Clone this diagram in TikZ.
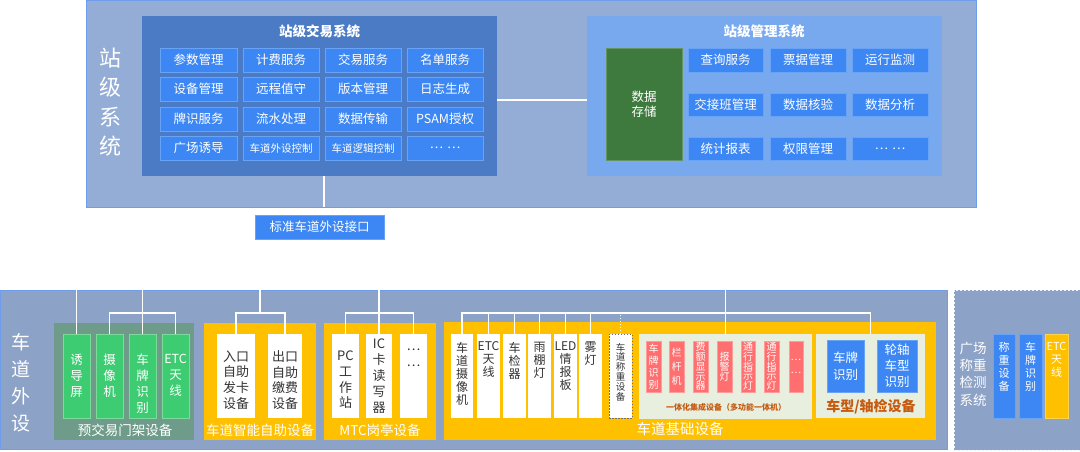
\documentclass[tikz,border=0pt]{standalone}
\usepackage{fontspec}
\setmainfont{Noto Sans CJK SC}
\definecolor{topbg}{HTML}{93ADD6}
\definecolor{edge}{HTML}{6D9DEB}
\definecolor{transbg}{HTML}{4A7BC4}
\definecolor{cellbg}{HTML}{3C87F4}
\definecolor{cellbd}{HTML}{68A3F5}
\definecolor{mgmtbg}{HTML}{78A8ED}
\definecolor{storebg}{HTML}{3E7A3D}
\definecolor{botbg}{HTML}{8CA2C7}
\definecolor{gantbg}{HTML}{6F9C8A}
\definecolor{greenbg}{HTML}{3ECC72}
\definecolor{greenbd}{HTML}{7ADB9B}
\definecolor{yel}{HTML}{FFC000}
\definecolor{lightbg}{HTML}{E8EFDF}
\definecolor{redbg}{HTML}{FF6F6F}
\definecolor{redbd}{HTML}{FF9C9C}
\definecolor{brown}{HTML}{C55A11}
\definecolor{dark}{HTML}{333333}
\newcommand\fs[2]{\fontsize{#1}{#2}\selectfont}
\newcommand\rb[7]{\node[#1, minimum width={(#5-#3)*1pt}, minimum height={(#6-#4)*1pt}] (#2) at ({(#3+#5)/2},{(#4+#6)/2}) {#7};}
\begin{document}
\begin{tikzpicture}[x=1pt,y=-1pt,
  every node/.style={inner sep=0pt, outer sep=0pt, text=white, font=\fs{12.5}{15}},
  panel/.style={fill=topbg, draw=edge, line width=1pt},
  botpanel/.style={fill=botbg, draw=edge, line width=1pt},
  transbox/.style={fill=transbg},
  mgmtbox/.style={fill=mgmtbg},
  cellbox/.style={fill=cellbg, draw=cellbd, line width=0.8pt},
  storebox/.style={fill=storebg, draw=storebg!80!white, line width=0.6pt, align=center},
  gantrybox/.style={fill=gantbg},
  greenbox/.style={fill=greenbg, draw=greenbd, line width=0.8pt},
  yelbox/.style={fill=yel},
  whitebox/.style={fill=white},
  dashbox/.style={fill=white, draw=dark!70, dashed, dash pattern=on 1.5pt off 1.5pt, line width=0.8pt},
  lightbox/.style={fill=lightbg},
  redbox/.style={fill=redbg, draw=redbd, line width=0.8pt, align=center},
  bluebox/.style={fill=cellbg, draw=cellbd, line width=0.8pt, align=center},
  yelitem/.style={fill=yel, draw=yel!70!white, line width=0.8pt},
  weighbox/.style={fill=botbg, draw=white!85!botbg, dashed, dash pattern=on 2pt off 2pt, line width=0.8pt},
  title/.style={font=\bfseries\fs{13.5}{16}},
  vtext/.style={align=center, anchor=north},
  grouplbl/.style={font=\fs{13.5}{16}},
  wire/.style={draw=white, line width=1.3pt},
  dotwire/.style={draw=white, line width=1.3pt, dash pattern=on 1.5pt off 1.5pt}
]
\useasboundingbox (0,0) rectangle (1080,451);
% ---------------- top: station level
\rb{panel}{top}{86}{0}{976}{207}{}
\node[font=\fs{22}{29.5}, align=center] (toplbl) at (110,102) {站\\级\\系\\统};
\rb{transbox}{trans}{142}{16}{497}{176}{}
\node[title] (transt) at (319.5,31) {站级交易系统};
% cells
\rb{cellbox}{t11}{160}{48}{237}{72}{参数管理}
\rb{cellbox}{t12}{243}{48}{319}{72}{计费服务}
\rb{cellbox}{t13}{325}{48}{401}{72}{交易服务}
\rb{cellbox}{t14}{407}{48}{483}{72}{名单服务}
\rb{cellbox}{t21}{160}{77}{237}{101}{设备管理}
\rb{cellbox}{t22}{243}{77}{319}{101}{远程值守}
\rb{cellbox}{t23}{325}{77}{401}{101}{版本管理}
\rb{cellbox}{t24}{407}{77}{483}{101}{日志生成}
\rb{cellbox}{t31}{160}{107}{237}{131}{牌识服务}
\rb{cellbox}{t32}{243}{107}{319}{131}{流水处理}
\rb{cellbox}{t33}{325}{107}{401}{131}{数据传输}
\rb{cellbox}{t34}{407}{107}{483}{131}{PSAM授权}
\rb{cellbox}{t41}{160}{136}{237}{160}{广场诱导}
\rb{cellbox,font=\fs{10.5}{12}}{t42}{243}{136}{319}{160}{车道外设控制}
\rb{cellbox,font=\fs{10.5}{12}}{t43}{325}{136}{401}{160}{车道逻辑控制}
\rb{cellbox}{t44}{407}{136}{483}{160}{…\hspace{4pt}…}
% management
\rb{mgmtbox}{mgmt}{587}{16}{942}{176}{}
\node[title] (mgmtt) at (764,31) {站级管理系统};
\rb{storebox}{store}{606}{48}{682}{160}{数据\\存储}
\rb{cellbox}{m11}{688}{48}{763}{72}{查询服务}
\rb{cellbox}{m12}{770}{48}{846}{72}{票据管理}
\rb{cellbox}{m13}{852}{48}{928}{72}{运行监测}
\rb{cellbox}{m21}{688}{93}{763}{116}{交接班管理}
\rb{cellbox}{m22}{770}{93}{846}{116}{数据核验}
\rb{cellbox}{m23}{852}{93}{928}{116}{数据分析}
\rb{cellbox}{m31}{688}{137}{763}{160}{统计报表}
\rb{cellbox}{m32}{770}{137}{846}{160}{权限管理}
\rb{cellbox}{m33}{852}{137}{928}{160}{…\hspace{4pt}…}
\draw[wire] ([yshift=-4pt]trans.east) -- ([yshift=-4pt]mgmt.west);
\draw[wire] ([xshift=4.5pt]trans.south) -- ([xshift=4.5pt]trans.south |- top.south);
\rb{cellbox}{iface}{255}{215}{384}{239}{标准车道外设接口}
% ---------------- bottom: lane peripherals
\rb{botpanel}{bot}{0}{290}{947}{449}{}
\node[font=\fs{19}{27}, align=center] (botlbl) at (21,383) {车\\道\\外\\设};
\coordinate (bus) at (0,313);
% gantry
\rb{gantrybox}{gan}{54}{323}{194}{440}{}
\node[grouplbl] (ganl) at (125,430) {预交易门架设备};
\rb{greenbox}{g1}{63}{334}{90}{418}{}
\rb{greenbox}{g2}{96}{334}{123}{418}{}
\rb{greenbox}{g3}{129}{334}{156}{418}{}
\rb{greenbox}{g4}{162}{334}{189}{418}{}
\foreach \n/\t in {g1/{诱\\导\\屏}, g2/{摄\\像\\机}, g3/{车\\牌\\识\\别}, g4/{ETC\\天\\线}}
  \node[vtext, font=\fs{12.5}{16}] (\n t) at ([yshift=-20pt]\n.north) {\t};
% smart self-service
\rb{yelbox}{smart}{204}{323}{316}{440}{}
\node[grouplbl] (smartl) at (260,430) {车道智能自助设备};
\rb{whitebox}{s1}{217}{334}{255}{418}{}
\rb{whitebox}{s2}{268}{334}{302}{418}{}
\node[align=center, text=dark, font=\fs{13}{15.6}] (s1t) at ([yshift=-4pt]s1.center) {入口\\自助\\发卡\\设备};
\node[align=center, text=dark, font=\fs{13}{15.6}] (s2t) at ([yshift=-4pt]s2.center) {出口\\自助\\缴费\\设备};
% MTC
\rb{yelbox}{mtc}{324}{323}{436}{440}{}
\node[grouplbl] (mtcl) at (380,430) {MTC岗亭设备};
\rb{whitebox}{k1}{332}{334}{359}{418}{}
\rb{whitebox}{k2}{366}{334}{392}{418}{}
\rb{whitebox}{k3}{400}{334}{427}{418}{}
\node[align=center, text=dark, font=\fs{13}{15.6}] (k1t) at ([yshift=-4pt]k1.center) {PC\\工\\作\\站};
\node[align=center, text=dark, font=\fs{13}{16}] (k2t) at (k2.center) {IC\\卡\\读\\写\\器};
\node[align=center, text=dark, font=\fs{13}{16}] (k3t) at ([yshift=18pt]k3.center) {…\\…};
% lane basic equipment
\rb{yelbox}{base}{444}{322}{936}{440}{}
\node[font=\fs{14.5}{17}] (basel) at (680,429) {车道基础设备};
\rb{whitebox}{b1}{451}{334}{473}{418}{}
\rb{whitebox}{b2}{477}{334}{500}{418}{}
\rb{whitebox}{b3}{503}{334}{526}{418}{}
\rb{whitebox}{b4}{528}{334}{551}{418}{}
\rb{whitebox}{b5}{554}{334}{577}{418}{}
\rb{whitebox}{b6}{579}{334}{602}{418}{}
\rb{dashbox}{b7}{609}{334}{632}{418}{}
\foreach \n/\t in {b1/{车\\道\\摄\\像\\机}, b2/{ETC\\天\\线}, b3/{车\\检\\器}, b4/{雨\\棚\\灯}, b5/{LED\\情\\报\\板}, b6/{雾\\灯}}
  \node[vtext, text=dark, font=\fs{12}{13}] (\n t) at ([yshift=-8pt]\n.north) {\t};
\node[vtext, text=dark, font=\fs{9.5}{9.8}] (b7t) at ([yshift=-9pt]b7.north) {车\\道\\称\\重\\设\\备};
% integrated device
\rb{lightbox}{integ}{639}{334}{812}{419}{}
\node[text=brown, font=\bfseries\fs{8}{10}] (integl) at (726,407) {一体化集成设备（多功能一体机）};
\rb{redbox,font=\fs{10}{12}}{r1}{646}{341}{661}{392}{车\\牌\\识\\别}
\rb{redbox,font=\fs{10}{14}}{r2}{669}{341}{684}{392}{栏\\杆\\机}
\rb{redbox,font=\fs{10}{9.8}}{r3}{693}{341}{708}{392}{费\\额\\显\\示\\器}
\rb{redbox,font=\fs{10}{10}}{r4}{717}{341}{732}{392}{报\\警\\灯}
\rb{redbox,font=\fs{10}{9.8}}{r5}{741}{341}{755}{392}{通\\行\\指\\示\\灯}
\rb{redbox,font=\fs{10}{9.8}}{r6}{764}{341}{779}{392}{通\\行\\指\\示\\灯}
\rb{redbox,font=\fs{10}{13}}{r7}{789}{341}{803}{392}{…\\…}
% vehicle type / axle
\rb{lightbox}{vt}{816}{334}{925}{418}{}
\node[text=brown, font=\bfseries\fs{14}{16}] (vtl) at (871,407) {车型/轴检设备};
\rb{bluebox,font=\fs{12.5}{17}}{v1}{827}{340}{864}{392}{车牌\\识别}
\rb{bluebox,font=\fs{12.5}{16}}{v2}{877}{340}{917}{392}{轮轴\\车型\\识别}
% connectors bottom
\draw[wire] (g1.north |- bot.north) -- (g1.north);
\draw[wire] (g3.north |- bot.north) -- (g3.north);
\draw[wire] (g2.north) -- (g2.north |- bus) -- (g4.north |- bus) -- (g4.north);
\draw[wire] (smart.north |- bot.north) -- (smart.north |- bus);
\draw[wire] (s1.north) -- (s1.north |- bus) -- (s2.north |- bus) -- (s2.north);
\draw[wire] (k2.north |- bot.north) -- (k2.north);
\draw[wire] (k1.north) -- (k1.north |- bus) -- (k3.north |- bus) -- (k3.north);
\draw[wire] (b1.north) -- (b1.north |- bus) -- (vt.north |- bus) -- (vt.north);
\foreach \n in {b2,b3,b4,b5,b6} \draw[wire] (\n.north) -- (\n.north |- bus);
\draw[dotwire] (b7.north) -- (b7.north |- bus);
\draw[wire] (integ.north |- bot.north) -- (integ.north);
% ---------------- weighing system
\rb{weighbox}{wt}{954}{290}{1082}{450}{}
\node[align=center, font=\fs{13.5}{17.3}] (wtl) at (973,374) {广场\\称重\\检测\\系统};
\rb{bluebox}{w1}{993}{334}{1015}{418}{}
\rb{bluebox}{w2}{1019}{334}{1042}{418}{}
\rb{yelitem}{w3}{1045}{334}{1068}{418}{}
\node[vtext, font=\fs{11}{13}] (w1t) at ([yshift=-8pt]w1.north) {称\\重\\设\\备};
\node[vtext, font=\fs{11}{13}] (w2t) at ([yshift=-8pt]w2.north) {车\\牌\\识\\别};
\node[vtext, font=\fs{11}{13}] (w3t) at ([yshift=-8pt]w3.north) {ETC\\天\\线};
\end{tikzpicture}
\end{document}
